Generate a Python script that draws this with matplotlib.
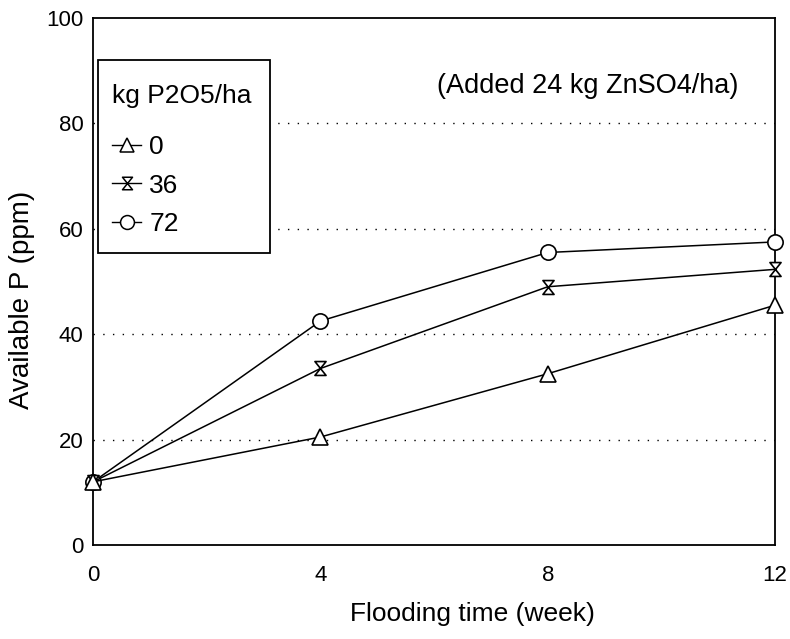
import matplotlib
matplotlib.use("Agg")
import matplotlib.pyplot as plt
from matplotlib.path import Path
from matplotlib.lines import Line2D
from matplotlib.patches import Rectangle

plt.rcParams["font.family"] = ["Liberation Sans", "DejaVu Sans"]

weeks = [0, 4, 8, 12]
p_0 = [12, 20.5, 32.5, 45.5]
p_36 = [12, 33.5, 49, 52.3]
p_72 = [12, 42.5, 55.5, 57.5]
rates = ["0", "36", "72"]

# hourglass marker: two triangles meeting at their tips
hourglass = Path([(-0.8, 1), (0.8, 1), (-0.8, -1), (0.8, -1), (-0.8, 1)],
                 [Path.MOVETO, Path.LINETO, Path.LINETO, Path.LINETO, Path.CLOSEPOLY])

fig = plt.figure(figsize=(7.9, 6.39), dpi=100)
ax = fig.add_axes([0.118, 0.147, 0.863, 0.825])

for y in [20, 40, 60, 80]:
    ax.plot([0, 12], [y, y], color="black", lw=1.0, ls=(0, (1, 6)), zorder=1)

mk = dict(color="black", lw=1.1, mfc="white", mew=1.2, clip_on=False)
ax.plot(weeks, p_72, marker="o", ms=11, zorder=3, **mk)
ax.plot(weeks, p_36, marker=hourglass, ms=10, zorder=4, **mk)
ax.plot(weeks, p_0, marker="^", ms=11, zorder=5, **mk)

ax.text(6.05, 87, "(Added 24 kg ZnSO4/ha)", fontsize=19.5, ha="left", va="center")

ax.set_xlim(0, 12)
ax.set_ylim(0, 100)
ax.set_xticks(weeks)
ax.set_yticks(range(0, 101, 20))
ax.tick_params(length=0, labelsize=16)
ax.tick_params(axis="x", pad=14)
ax.tick_params(axis="y", pad=7)
ax.set_xlabel("Flooding time (week)", fontsize=19)
ax.set_ylabel("Available P (ppm)", fontsize=20)
ax.xaxis.set_label_coords(0.556, -0.108)
ax.yaxis.set_label_coords(-0.085, 0.465)
for s in ax.spines.values():
    s.set_linewidth(1.3)

# legend frame drawn separately so its size can follow the original box
ax.add_patch(Rectangle((0.0073, 0.554), 0.2522, 0.366, transform=ax.transAxes,
                       facecolor="white", edgecolor="black", lw=1.3, zorder=6))

kw = dict(color="black", lw=1.0, mfc="white", mew=1.1)
h0 = Line2D([], [], marker="^", ms=10, **kw)
h36 = Line2D([], [], marker=hourglass, ms=9, **kw)
h72 = Line2D([], [], marker="o", ms=10, **kw)
leg = ax.legend([h0, h36, h72], rates, title="kg P2O5/ha",
                loc="upper left", bbox_to_anchor=(0.0073, 0.901),
                fontsize=19, title_fontsize=19, alignment="left",
                handlelength=1.1, handletextpad=0.3, labelspacing=0.55,
                borderpad=0.53, borderaxespad=0, frameon=False)
leg._legend_box.sep = 0.55 * 19 + 9  # wider gap under the title
leg.set_zorder(7)

fig.savefig("out.png", dpi=100)
